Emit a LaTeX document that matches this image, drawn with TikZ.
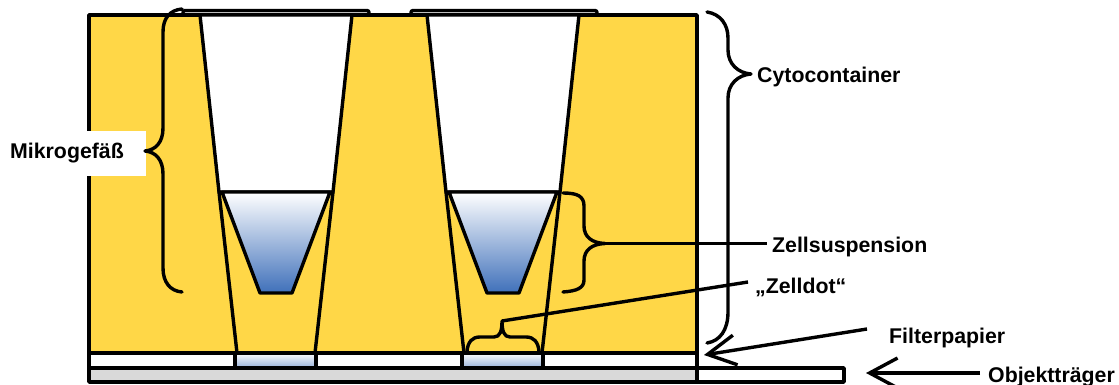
\documentclass[tikz,border=0pt]{standalone}
\usepackage{fontspec}
\setmainfont{Liberation Sans}
\usetikzlibrary{arrows.meta,positioning}
\definecolor{bodyyellow}{HTML}{FFD747}
\definecolor{cellblue}{HTML}{3F70BA}
\definecolor{slidegray}{HTML}{D9D9D9}

\begin{document}
\begin{tikzpicture}[
        x=1pt,
        y=-1pt,
        wall/.style={line width=3.4pt, line join=round},
        brace/.style={line width=3.4pt, line cap=round, line join=round},
        lead/.style={line width=3.4pt},
        pointer/.style={line width=3.4pt, -{Straight Barb[length=28pt, width=30pt, line width=3.4pt]}},
        fluid/.style={wall, top color=white, bottom color=cellblue},
        dotfill/.style={wall, top color=white, bottom color=cellblue!55},
        lab/.style={font=\fontsize{21.3}{21.3}\selectfont\bfseries, inner sep=0pt, anchor=base west}
    ]
        \useasboundingbox (0,0) rectangle (1119,385);

        % lids
        \foreach \x in {183,411}{
            \draw[wall, rounded corners=2pt, fill=slidegray] (\x,16) -- (\x,10.5) -- (\x+186,10.5) -- (\x+186,16);
        }

        % container, filter and slide
        \draw[wall, fill=bodyyellow] (89,15) rectangle (697,353);
        \draw[wall, fill=white] (89,353) rectangle (697,368);
        \draw[wall, fill=white] (697,368) rectangle (844,382);
        \draw[wall, fill=slidegray] (89,368) rectangle (697,382);

        % wells
        \foreach \x/\bx in {200/237,427/464}{
            \draw[wall, fill=white] (\x,15) -- (\x+152,15) -- (\x+133,192) -- (\x+19,192) -- cycle;
            \draw[wall] (\x+19,192) -- (\bx,353);
            \draw[wall] (\x+133,192) -- (\bx+78,353);
            \draw[fluid] (\x+22,192) -- (\x+130,192) -- (\x+92,293) -- (\x+60,293) -- cycle;
            \draw[dotfill] (\bx-2,353) rectangle (\bx+79,368);
        }

        % Mikrogefaess
        \fill[white] (0,131) rectangle (146,176);
        \draw[brace] (182,9) .. controls (170,10) and (163,18) .. (163,32) -- (163,128)
            .. controls (163,142) and (156,150) .. (145,151)
            .. controls (156,152) and (163,160) .. (163,174) -- (163,268)
            .. controls (163,282) and (170,291) .. (182,292);
        \node[lab] (gefaess) at (10,159) {Mikrogefäß};

        % Cytocontainer
        \draw[brace] (707,12) .. controls (720,14) and (728,24) .. (728,38) -- (728,50)
            .. controls (728,64) and (738,73) .. (751,74)
            .. controls (738,75) and (728,84) .. (728,98) -- (728,312)
            .. controls (728,330) and (720,341) .. (707,343);
        \node[lab] (container) at (757,83) {Cytocontainer};

        % Zellsuspension
        \coordinate (suspensiontip) at (605,243.5);
        \draw[brace] (563,193) .. controls (577,193) and (584,196) .. (584,206) -- (584,226)
            .. controls (584,237) and (592,243) .. (suspensiontip)
            .. controls (592,244) and (584,250) .. (584,261) -- (584,280)
            .. controls (584,288) and (577,291) .. (563,292);
        \node[lab] (suspension) at (772,252) {Zellsuspension};
        \draw[lead] (suspensiontip) -- ([xshift=-5pt]suspension.west |- suspensiontip);

        % Zelldot
        \coordinate (dottip) at (502,321);
        \draw[brace] (467,351) .. controls (468,342) and (472,337) .. (480,337) -- (494,337)
            .. controls (500,337) and (502,331) .. (dottip)
            .. controls (502,331) and (504,337) .. (510,337) -- (526,337)
            .. controls (534,337) and (538,342) .. (539,351);
        \node[lab] (zelldot) at (755,293) {„Zelldot“};
        \coordinate (dotend) at (748,282);
        \draw[lead] (dottip) -- (dotend);

        % pointers
        \node[lab] (filter) at (889,343) {Filterpapier};
        \coordinate (filterstart) at (867,329);
        \coordinate (filtertip) at (704,355);
        \draw[pointer] (filterstart) -- (filtertip);

        \node[lab] (slide) at (988,382) {Objektträger};
        \coordinate (slidestart) at (980,373);
        \coordinate (slidetip) at (866,373);
        \draw[pointer] (slidestart) -- (slidetip);
    \end{tikzpicture}
\end{document}
